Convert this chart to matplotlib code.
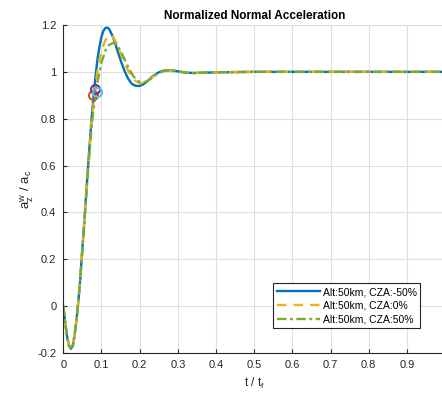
import matplotlib
matplotlib.use('Agg')
import matplotlib.pyplot as plt

plt.rcParams['font.family'] = ['Liberation Sans', 'DejaVu Sans']

# CZA -50%
t_a = [0, 0.005, 0.01, 0.015, 0.02, 0.025, 0.03, 0.035, 0.04, 0.045, 0.05, 0.055,
       0.06, 0.065, 0.07, 0.075, 0.08, 0.085, 0.09, 0.095, 0.1, 0.105, 0.11, 0.115,
       0.12, 0.13, 0.14, 0.15, 0.16, 0.17, 0.18, 0.19, 0.2, 0.21, 0.22, 0.23, 0.24,
       0.25, 0.26, 0.27, 0.28, 0.29, 0.3, 0.32, 0.34, 0.36, 0.4, 0.5, 1.0]
y_a = [0, -0.07, -0.13, -0.17, -0.182, -0.17, -0.12, -0.05, 0.03, 0.13, 0.25, 0.36,
       0.48, 0.60, 0.71, 0.82, 0.91, 0.99, 1.06, 1.11, 1.15, 1.175, 1.187, 1.189,
       1.183, 1.15, 1.10, 1.05, 1.005, 0.97, 0.948, 0.94, 0.94, 0.947, 0.96, 0.975, 0.988,
       0.998, 1.004, 1.007, 1.007, 1.005, 1.002, 0.997, 0.995, 0.996, 0.998, 1.0, 1.0]

# CZA 0%
t_b = [0, 0.005, 0.01, 0.015, 0.02, 0.025, 0.03, 0.035, 0.04, 0.045, 0.05, 0.055,
       0.06, 0.065, 0.07, 0.075, 0.08, 0.085, 0.09, 0.095, 0.1, 0.11, 0.12, 0.125,
       0.13, 0.14, 0.15, 0.16, 0.17, 0.18, 0.19, 0.2, 0.21, 0.22, 0.23, 0.24, 0.25,
       0.26, 0.27, 0.28, 0.29, 0.3, 0.32, 0.34, 0.36, 0.4, 0.5, 1.0]
y_b = [0, -0.07, -0.13, -0.17, -0.18, -0.168, -0.12, -0.05, 0.03, 0.13, 0.25, 0.36,
       0.48, 0.59, 0.70, 0.80, 0.88, 0.95, 1.01, 1.05, 1.09, 1.135, 1.155, 1.157,
       1.15, 1.12, 1.08, 1.04, 1.005, 0.978, 0.96, 0.952, 0.952, 0.96, 0.972, 0.985, 0.996,
       1.003, 1.006, 1.006, 1.004, 1.002, 0.997, 0.995, 0.996, 0.998, 1.0, 1.0]

# CZA 50%
t_c = [0, 0.005, 0.01, 0.015, 0.02, 0.025, 0.03, 0.035, 0.04, 0.045, 0.05, 0.055,
       0.06, 0.065, 0.07, 0.075, 0.08, 0.085, 0.09, 0.095, 0.1, 0.11, 0.12, 0.13,
       0.135, 0.14, 0.15, 0.16, 0.17, 0.18, 0.19, 0.2, 0.21, 0.22, 0.23, 0.24, 0.25,
       0.26, 0.27, 0.28, 0.29, 0.3, 0.32, 0.34, 0.36, 0.4, 0.5, 1.0]
y_c = [0, -0.07, -0.13, -0.17, -0.178, -0.165, -0.12, -0.05, 0.03, 0.13, 0.24, 0.35,
       0.47, 0.58, 0.69, 0.78, 0.85, 0.91, 0.96, 1.0, 1.04, 1.09, 1.115, 1.123,
       1.122, 1.115, 1.09, 1.055, 1.02, 0.99, 0.968, 0.957, 0.955, 0.96, 0.972, 0.985, 0.995,
       1.002, 1.005, 1.005, 1.004, 1.002, 0.997, 0.995, 0.996, 0.998, 1.0, 1.0]

# switch points
pt_t = [0.077, 0.083, 0.087]
pt_y = [0.90, 0.925, 0.912]
pt_col = ['#D95319', '#7E2F8E', '#4DBEEE']

labels = ['Alt:50km, CZA:-50%', 'Alt:50km, CZA:0%', 'Alt:50km, CZA:50%']

fig = plt.figure(figsize=(4.42, 3.93), dpi=100)
ax = fig.add_axes([0.1432, 0.1018, 0.864, 0.8346])

ax.plot(t_a, y_a, '-', color='#0072BD', lw=1.7, label=labels[0])
ax.plot(t_b, y_b, '--', color='#EDB120', lw=1.7, dashes=(4, 3), label=labels[1])
ax.plot(t_c, y_c, '-.', color='#77AC30', lw=1.7, dashes=(4, 1.5, 1.2, 1.5), label=labels[2])
for i in range(3):
    ax.plot(pt_t[i], pt_y[i], 'o', mfc='none', mec=pt_col[i], ms=6.5, mew=1.5)

ax.set_xlim(0, 1)
ax.set_ylim(-0.2, 1.2)
ax.set_xticks([0, 0.1, 0.2, 0.3, 0.4, 0.5, 0.6, 0.7, 0.8, 0.9, 1.0])
ax.set_xticklabels(['0', '0.1', '0.2', '0.3', '0.4', '0.5', '0.6', '0.7', '0.8', '0.9', '1'])
ax.set_yticks([-0.2, 0, 0.2, 0.4, 0.6, 0.8, 1.0, 1.2])
ax.set_yticklabels(['-0.2', '0', '0.2', '0.4', '0.6', '0.8', '1', '1.2'])
ax.grid(True, color='#dfdfdf', lw=0.8)
ax.set_axisbelow(True)
for s in ['top', 'right']:
    ax.spines[s].set_visible(False)
for s in ['left', 'bottom']:
    ax.spines[s].set_color('#262626')
    ax.spines[s].set_linewidth(0.8)
ax.tick_params(direction='in', length=3, labelsize=8, colors='#262626', pad=5)

ax.set_title('Normalized Normal Acceleration', fontsize=8.5, fontweight='bold', pad=4)
ax.set_xlabel('t / t$_\\mathregular{f}$', fontsize=8.5, color='#262626')
ax.set_ylabel('a$_\\mathregular{z}^\\mathregular{w}$ / a$_\\mathregular{c}$', fontsize=9.5,
              color='#262626', labelpad=1)

leg = ax.legend(loc='lower right', bbox_to_anchor=(0.94, 0.07), fontsize=7.5,
                handlelength=4.2, handletextpad=0.2, borderpad=0.35, labelspacing=0.35,
                borderaxespad=0.2, fancybox=False, framealpha=1)
leg.get_frame().set_edgecolor('#262626')
leg.get_frame().set_linewidth(0.8)

fig.savefig('out.png', dpi=100)
